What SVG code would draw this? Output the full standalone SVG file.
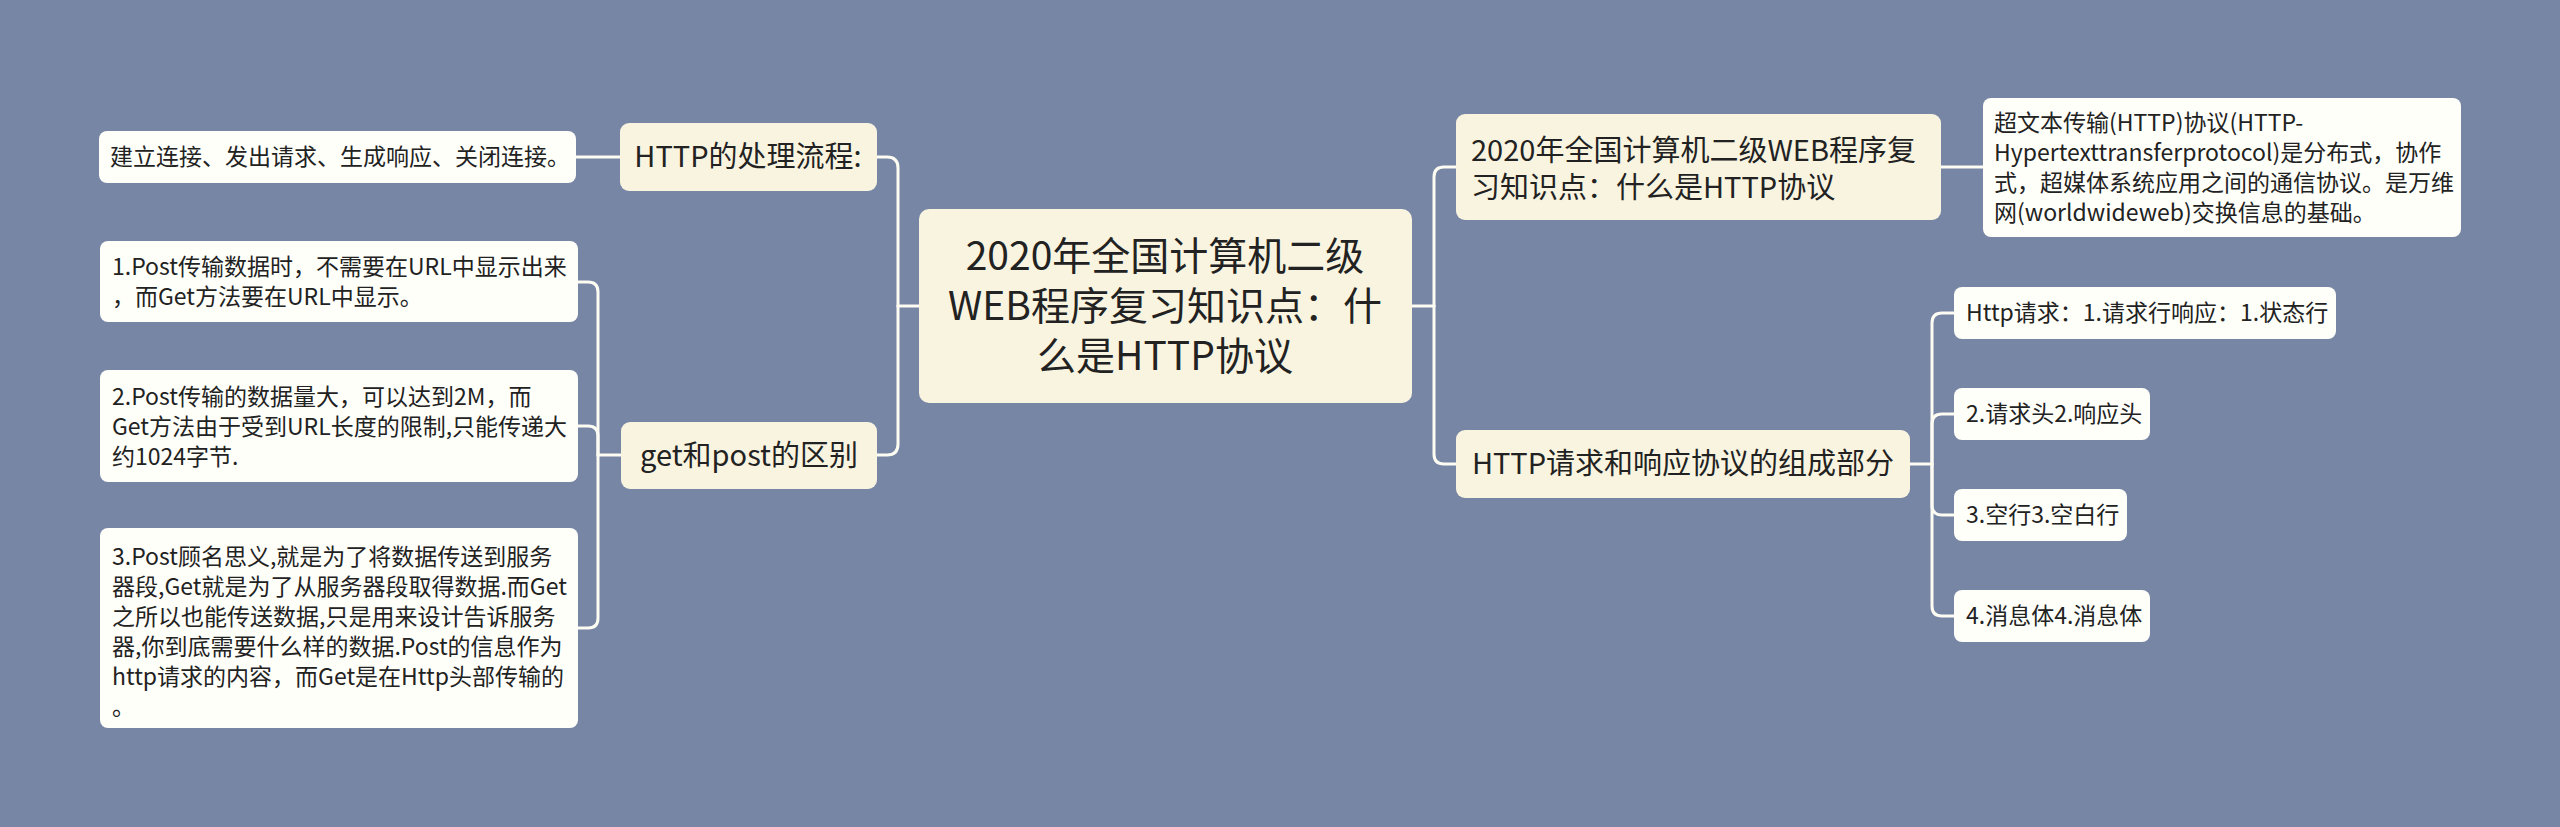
<svg xmlns="http://www.w3.org/2000/svg" width="2560" height="827" viewBox="0 0 2560 827">
<style>
.bg{fill:#7886a5}
.main{fill:#f9f4e0}
.sub{fill:#f9f4e0}
.leaf{fill:#fffffa}
.lnk{fill:none;stroke:#fdfcf3;stroke-width:3;stroke-linecap:round}
text{font-family:"Noto Sans CJK SC","Microsoft YaHei",sans-serif;fill:#222}
.t0{font-size:39px}
.t1{font-size:29px}
.t2{font-size:23px}
</style>
<rect class="bg" x="0" y="0" width="2560" height="827"/>
<g id="connectors">
<path class="lnk" d="M919,306 H898"/>
<path class="lnk" d="M898,306 V168 Q898,157 887,157 H877"/>
<path class="lnk" d="M898,306 V444 Q898,455 887,455 H877"/>
<path class="lnk" d="M620,157 H576"/>
<path class="lnk" d="M621,455 H598"/>
<path class="lnk" d="M598,455 V292 Q598,282 588,282 H578"/>
<path class="lnk" d="M598,455 V436 Q598,426 588,426 H578"/>
<path class="lnk" d="M598,455 V618 Q598,628 588,628 H578"/>
<path class="lnk" d="M1412,306 H1434"/>
<path class="lnk" d="M1434,306 V177 Q1434,167 1444,167 H1456"/>
<path class="lnk" d="M1434,306 V454 Q1434,464 1444,464 H1456"/>
<path class="lnk" d="M1941,167 H1983"/>
<path class="lnk" d="M1910,464 H1932"/>
<path class="lnk" d="M1932,464 V323 Q1932,313 1942,313 H1954"/>
<path class="lnk" d="M1932,464 V424 Q1932,414 1942,414 H1954"/>
<path class="lnk" d="M1932,464 V505 Q1932,515 1942,515 H1954"/>
<path class="lnk" d="M1932,464 V606 Q1932,616 1942,616 H1954"/>
</g>
<g id="center">
<rect class="main" x="919" y="209" width="493" height="194" rx="10"/>
<text class="t0" text-anchor="middle"><tspan x="1165" y="270">2020年全国计算机二级</tspan><tspan x="1165" y="320">WEB程序复习知识点：什</tspan><tspan x="1165" y="370">么是HTTP协议</tspan></text>
</g>
<g id="n-flow">
<rect class="sub" x="620" y="123" width="257" height="68" rx="9"/>
<text class="t1" x="748" y="167" text-anchor="middle">HTTP的处理流程:</text>
</g>
<g id="n-flow-leaf">
<rect class="leaf" x="99" y="131" width="477" height="52" rx="8"/>
<text class="t2" x="110" y="165">建立连接、发出请求、生成响应、关闭连接。</text>
</g>
<g id="n-getpost">
<rect class="sub" x="621" y="422" width="256" height="67" rx="9"/>
<text class="t1" x="749" y="466" text-anchor="middle">get和post的区别</text>
</g>
<g id="n-gp1">
<rect class="leaf" x="100" y="241" width="478" height="81" rx="8"/>
<text class="t2"><tspan x="112" y="275">1.Post传输数据时，不需要在URL中显示出来</tspan><tspan x="112" y="305">，而Get方法要在URL中显示。</tspan></text>
</g>
<g id="n-gp2">
<rect class="leaf" x="100" y="370" width="478" height="112" rx="8"/>
<text class="t2"><tspan x="112" y="405">2.Post传输的数据量大，可以达到2M，而</tspan><tspan x="112" y="435">Get方法由于受到URL长度的限制,只能传递大</tspan><tspan x="112" y="465">约1024字节.</tspan></text>
</g>
<g id="n-gp3">
<rect class="leaf" x="100" y="528" width="478" height="200" rx="8"/>
<text class="t2"><tspan x="112" y="565">3.Post顾名思义,就是为了将数据传送到服务</tspan><tspan x="112" y="595">器段,Get就是为了从服务器段取得数据.而Get</tspan><tspan x="112" y="625">之所以也能传送数据,只是用来设计告诉服务</tspan><tspan x="112" y="655">器,你到底需要什么样的数据.Post的信息作为</tspan><tspan x="112" y="685">http请求的内容，而Get是在Http头部传输的</tspan><tspan x="112" y="715">。</tspan></text>
</g>
<g id="n-what">
<rect class="sub" x="1456" y="114" width="485" height="106" rx="9"/>
<text class="t1"><tspan x="1471" y="161">2020年全国计算机二级WEB程序复</tspan><tspan x="1471" y="198">习知识点：什么是HTTP协议</tspan></text>
</g>
<g id="n-what-leaf">
<rect class="leaf" x="1983" y="98" width="478" height="139" rx="8"/>
<text class="t2"><tspan x="1994" y="131">超文本传输(HTTP)协议(HTTP-</tspan><tspan x="1994" y="161">Hypertexttransferprotocol)是分布式，协作</tspan><tspan x="1994" y="191">式，超媒体系统应用之间的通信协议。是万维</tspan><tspan x="1994" y="221">网(worldwideweb)交换信息的基础。</tspan></text>
</g>
<g id="n-parts">
<rect class="sub" x="1456" y="430" width="454" height="68" rx="9"/>
<text class="t1" x="1683" y="474" text-anchor="middle">HTTP请求和响应协议的组成部分</text>
</g>
<g id="n-p1">
<rect class="leaf" x="1954" y="287" width="382" height="52" rx="8"/>
<text class="t2" x="1966" y="321">Http请求：1.请求行响应：1.状态行</text>
</g>
<g id="n-p2">
<rect class="leaf" x="1954" y="388" width="196" height="52" rx="8"/>
<text class="t2" x="1966" y="422">2.请求头2.响应头</text>
</g>
<g id="n-p3">
<rect class="leaf" x="1954" y="489" width="173" height="52" rx="8"/>
<text class="t2" x="1966" y="523">3.空行3.空白行</text>
</g>
<g id="n-p4">
<rect class="leaf" x="1954" y="590" width="196" height="52" rx="8"/>
<text class="t2" x="1966" y="624">4.消息体4.消息体</text>
</g>
</svg>
